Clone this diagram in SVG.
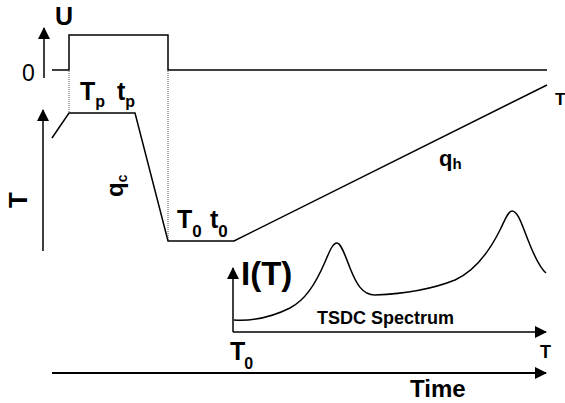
<svg xmlns="http://www.w3.org/2000/svg" width="565" height="403" viewBox="0 0 565 403">
<style>
text{font-family:"Liberation Sans",Arial,sans-serif;font-weight:bold;fill:#000}
.ln{fill:none;stroke:#000;stroke-width:1.5}
.ax{fill:none;stroke:#000;stroke-width:1.5}
.dot{fill:none;stroke:#555;stroke-width:1;stroke-dasharray:1,1}
</style>
<defs>
<marker id="ah" markerWidth="12" markerHeight="12" viewBox="0 0 12 12" refX="11" refY="6" orient="auto" markerUnits="userSpaceOnUse">
<path d="M0,0 L12,6 L0,12 Z" fill="#000"/>
</marker>
</defs>
<rect width="565" height="403" fill="#fff"/>
<g id="connectors">
<line class="ax" x1="44" y1="78" x2="44" y2="28" marker-end="url(#ah)"/>
<line class="ax" x1="43" y1="251" x2="43" y2="110" marker-end="url(#ah)"/>
<line class="ax" x1="233" y1="332" x2="233" y2="268" marker-end="url(#ah)"/>
<line class="ax" x1="233" y1="332" x2="546" y2="332" marker-end="url(#ah)"/>
<line x1="52" y1="373" x2="546" y2="373" stroke="#000" stroke-width="2" marker-end="url(#ah)"/>
</g>
<g id="voltage">
<polyline class="ln" stroke-width="2" points="52,70 69,70 69,35 168,35 168,70 547,70"/>
<line class="dot" x1="69" y1="71" x2="69" y2="113"/>
<line class="dot" x1="168" y1="71" x2="168" y2="240"/>
</g>
<g id="temperature">
<polyline class="ln" points="52,138 69,113 135,113 168,241 234,241 547,85"/>
</g>
<g id="spectrum">
<path class="ln" d="M234,320 C250,321 270,318 290,308 C305,300 315,285 325,262 C330,250 333,243 337,243 C341,243 345,255 350,268 C356,283 362,295 375,295 C400,294 430,290 455,280 C475,271 490,250 500,230 C505,220 508,211 512,211 C518,211 522,225 528,240 C535,258 540,268 546,273"/>
</g>
<g id="labels">
<text x="55" y="25" font-size="25">U</text>
<text x="22" y="81" font-size="23" style="font-weight:normal">0</text>
<text x="80" y="100" font-size="25">T<tspan font-size="16" dy="7">p</tspan></text>
<text x="117" y="100" font-size="25">t<tspan font-size="16" dy="7">p</tspan></text>
<text transform="translate(123,197) rotate(-90)" font-size="24">q<tspan font-size="14" dy="4">c</tspan></text>
<text x="177" y="228" font-size="25">T<tspan font-size="17" dy="9">0</tspan></text>
<text x="210" y="228" font-size="25">t<tspan font-size="17" dy="9">0</tspan></text>
<text x="439" y="166" font-size="22">q<tspan font-size="15" dy="3">h</tspan></text>
<text x="555" y="105" font-size="17">T</text>
<text transform="translate(27,208) rotate(-90)" font-size="26">T</text>
<text x="241" y="285" font-size="33">I(T)</text>
<text x="317" y="324" font-size="18">TSDC Spectrum</text>
<text x="230" y="360" font-size="25">T<tspan font-size="16" dx="-1" dy="9">0</tspan></text>
<text x="540" y="358" font-size="18">T</text>
<text x="410" y="397" font-size="24">Time</text>
</g>
</svg>
